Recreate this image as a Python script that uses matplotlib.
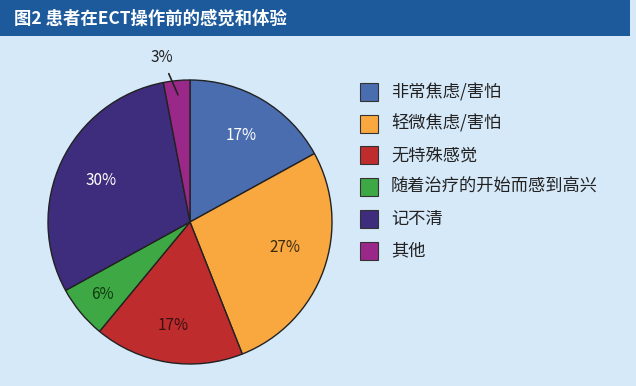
import matplotlib
matplotlib.use("Agg")
import matplotlib.pyplot as plt
from matplotlib.patches import Rectangle
import numpy as np

plt.rcParams['font.family'] = ['Noto Sans CJK SC', 'DejaVu Sans']

title = "图2 患者在ECT操作前的感觉和体验"
categories = ["非常焦虑/害怕", "轻微焦虑/害怕", "无特殊感觉", "随着治疗的开始而感到高兴", "记不清", "其他"]
values = [17, 27, 17, 6, 30, 3]
colors = ["#4a6db0", "#f9a83f", "#be2c2e", "#3ea845", "#3d2d7c", "#9a2889"]
label_colors = ["white", "#3a2a10", "#3a1010", "#103a10", "white", "#222222"]
label_radius = [0.71, 0.69, 0.74, 0.80, 0.69]
label_angle_shift = [0, 5, 0, 0, 0]

W, H = 636, 386
fig = plt.figure(figsize=(W/100, H/100), dpi=100)
fig.patch.set_facecolor("#d6e9f9")

# title band
fig.patches.append(Rectangle((0, 1 - 36/H), 630/W, 36/H, transform=fig.transFigure,
                             facecolor="#1d5a9c", edgecolor="none", zorder=0))
fig.text(14/W, 1 - 19/H, title, color="white", fontsize=12.5, fontweight="bold",
         va="center", ha="left")

# pie axes: center (190, 222), radius 142
r = 142
cx, cy = 190, 222
ax = fig.add_axes([(cx - r)/W, 1 - (cy + r)/H, 2*r/W, 2*r/H])
ax.set_facecolor("none")
wedges, _ = ax.pie(values, colors=colors, startangle=90, counterclock=False,
                   wedgeprops=dict(edgecolor="#222222", linewidth=1.0))
ax.set_xlim(-1, 1)
ax.set_ylim(-1, 1)
ax.set_aspect("equal")

ang = 90.0
for i, v in enumerate(values):
    mid = ang - v * 3.6 / 2
    ang -= v * 3.6
    if i == len(values) - 1:
        continue
    rr = label_radius[i]
    a = np.radians(mid + label_angle_shift[i])
    ax.text(rr*np.cos(a), rr*np.sin(a), f"{v}%",
            ha="center", va="center", fontsize=11, color=label_colors[i])

# small slice label with leader line
mid = 90 + values[-1]*3.6/2
ax.annotate(f"{values[-1]}%", xy=(0.9*np.cos(np.radians(mid)), 0.9*np.sin(np.radians(mid))),
            xytext=(-0.2, 1.16), ha="center", va="center", fontsize=11, color="#222222",
            arrowprops=dict(arrowstyle="-", color="#222222", lw=1.2, shrinkA=4, shrinkB=0),
            annotation_clip=False)

# legend
for i, (c, lab) in enumerate(zip(colors, categories)):
    y = 92 + i*31.7
    fig.patches.append(Rectangle((360/W, 1 - (y + 9)/H), 18/W, 18/H, transform=fig.transFigure,
                                 facecolor=c, edgecolor="#333333", linewidth=0.8))
    fig.text(391/W, 1 - y/H, lab, fontsize=12.4, color="#222222", va="center", ha="left")

fig.savefig("out.png", dpi=100, facecolor=fig.get_facecolor())
